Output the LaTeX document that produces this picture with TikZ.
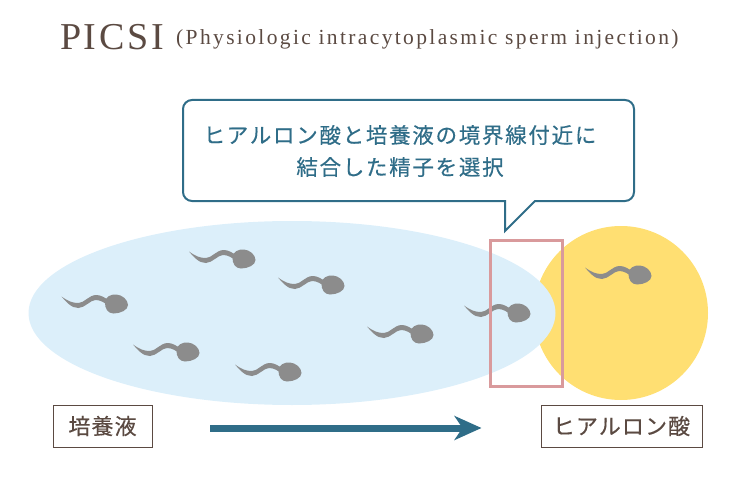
\documentclass[tikz,border=0pt]{standalone}
\usepackage{fontspec}
\setmainfont{Liberation Serif}
\newfontfamily\jpfont[LetterSpace=8,FakeBold=0.35]{Noto Sans CJK JP}
\newfontfamily\jplabel[LetterSpace=5,FakeBold=0.25]{Noto Sans CJK JP}
\newfontfamily\ttlbig[LetterSpace=7]{Liberation Serif}
\newfontfamily\ttlsmall[LetterSpace=11]{Liberation Serif}
\usetikzlibrary{arrows.meta}
\definecolor{teal1}{HTML}{2F6D88}
\definecolor{brown1}{HTML}{5B4A42}
\definecolor{sky1}{HTML}{DCEFFA}
\definecolor{sun1}{HTML}{FFDF72}
\definecolor{pink1}{HTML}{D99A9C}
\definecolor{gray1}{HTML}{8C8C8C}
\tikzset{
  x=1pt,y=-1pt,
  labelbox/.style={draw=brown1,line width=0.8pt,fill=white,text=brown1,inner sep=0pt,minimum height=42pt,anchor=center,font=\jplabel\fontsize{22}{26}\selectfont},
  callouttext/.style={text=teal1,align=center,font=\jpfont\fontsize{21.5}{32}\selectfont},
  sperm/.pic={
    \fill[gray1] (-11.5,-1) .. controls (-11.5,-7) and (-6,-10) .. (0,-9.5)
      .. controls (6,-9) and (11.5,-4) .. (11.5,1)
      .. controls (11.5,6) and (4,9.5) .. (-3,9.5)
      .. controls (-9,9.5) and (-11.5,4) .. (-11.5,-1) -- cycle;
    \fill[gray1] (-55,-7.5) .. controls (-48,-2.5) and (-44,-1) .. (-38,-1)
      .. controls (-32,-1) and (-28,-9) .. (-20,-9)
      .. controls (-16,-9) and (-12,-6.5) .. (-8,-4)
      -- (-8,2) .. controls (-12,-1.5) and (-16,-4) .. (-21,-4)
      .. controls (-27,-3.5) and (-31,3.5) .. (-38,4)
      .. controls (-45,4.5) and (-51,-3) .. (-55,-7.5) -- cycle;
  }
}
\begin{document}
\begin{tikzpicture}
\useasboundingbox (0,0) rectangle (750,500);
% title
\node[anchor=base west,inner sep=0pt,text=brown1,font=\ttlbig\fontsize{38}{40}\selectfont] (title) at (60,50) {PICSI};
\node[anchor=base west,inner sep=0pt,text=brown1,font=\ttlsmall\fontsize{21.5}{24}\selectfont] (subtitle) at (176,45) {(Physiologic intracytoplasmic sperm injection)};
% callout
\draw[teal1,line width=2pt,fill=white,line join=miter]
  (192,100) -- (625,100) arc[start angle=-90,end angle=0,radius=9] -- (634,192)
  arc[start angle=0,end angle=90,radius=9] -- (535,201) -- (505,231) -- (505,201) -- (192,201)
  arc[start angle=90,end angle=180,radius=9] -- (183,109)
  arc[start angle=180,end angle=270,radius=9] -- cycle;
\node[callouttext] (msg) at (400,151) {ヒアルロン酸と培養液の境界線付近に\\結合した精子を選択};
% regions
\fill[sun1] (621,313) circle [radius=87];
\fill[sky1] (292,313) ellipse [x radius=263.5,y radius=92];
% sperm
\foreach \n/\px/\py in {a/244/259,b/333/285,c/116.5/304,d/422/334,e/188/352,f/290/372,g/519/313,h/640/275}
  \pic (s\n) at (\px,\py) {sperm};
\draw[pink1,line width=3pt] (490,240) rectangle (562.5,386);
% labels
\node[labelbox,minimum width=99pt] (lm) at (102.5,426) {培養液};
\node[labelbox,minimum width=161pt] (ha) at (621.5,426) {ヒアルロン酸};
% arrow
\coordinate (as) at (210,428);
\coordinate (ae) at (481.5,428);
\draw[teal1,line width=7pt,-{Triangle[length=27pt,width=24pt,inset=8pt]}] (as) -- (ae);
\end{tikzpicture}
\end{document}
